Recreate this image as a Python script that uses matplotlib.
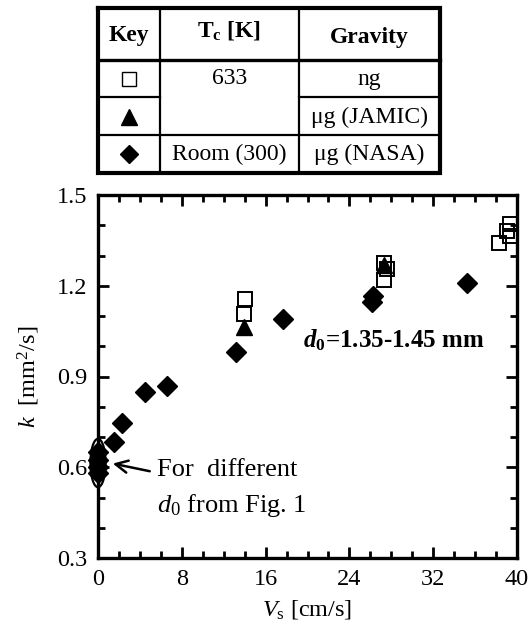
import matplotlib
matplotlib.use("Agg")
import matplotlib.pyplot as plt
from matplotlib.patches import Ellipse
from matplotlib.ticker import MultipleLocator

plt.rcParams['font.family'] = ['Liberation Serif', 'DejaVu Serif']
plt.rcParams['mathtext.fontset'] = 'custom'
plt.rcParams['mathtext.rm'] = 'Liberation Serif'
plt.rcParams['mathtext.it'] = 'Liberation Serif:italic'
plt.rcParams['mathtext.bf'] = 'Liberation Serif:bold'
plt.rcParams['mathtext.bfit'] = 'Liberation Serif:italic:bold'

# ---- data ----
ng_x = [14.0, 13.9, 27.3, 27.6, 27.3, 38.3, 39.0, 39.3, 39.3]
ng_y = [1.155, 1.105, 1.275, 1.255, 1.22, 1.34, 1.38, 1.405, 1.365]

jamic_x = [13.9, 27.3]
jamic_y = [1.065, 1.268]

nasa_x = [0, 0, 0, 0, 1.5, 2.3, 4.5, 6.6, 13.2, 17.7, 26.3, 26.2, 35.2]
nasa_y = [0.65, 0.625, 0.60, 0.58, 0.685, 0.745, 0.85, 0.87, 0.98, 1.09, 1.165, 1.145, 1.21]

x_ticks = [0, 8, 16, 24, 32, 40]
y_ticks = [0.3, 0.6, 0.9, 1.2, 1.5]

table_header = ["Key", "T$_\\mathregular{c}$ [K]", "Gravity"]
table_tc = ["633", "Room (300)"]
table_gravity = ["ng", "\u03bcg (JAMIC)", "\u03bcg (NASA)"]

W, H = 532, 640
fig = plt.figure(figsize=(W / 100, H / 100), dpi=100)

# ---- main axes ----
x0, x1, y0, y1 = 98, 517, 195, 558
ax = fig.add_axes([x0 / W, 1 - y1 / H, (x1 - x0) / W, (y1 - y0) / H])
ax.set_xlim(0, 40)
ax.set_ylim(0.3, 1.5)
ax.set_xticks(x_ticks)
ax.set_yticks(y_ticks)
ax.set_yticklabels([f"{v:.1f}" for v in y_ticks])
ax.xaxis.set_minor_locator(MultipleLocator(2))
ax.yaxis.set_minor_locator(MultipleLocator(0.1))
ax.tick_params(which='both', direction='in', top=True, right=True, width=2,
               labelsize=17.5, pad=8)
ax.tick_params(which='major', length=8)
ax.tick_params(which='minor', length=5)
for s in ax.spines.values():
    s.set_linewidth(2.4)

ax.plot(nasa_x, nasa_y, linestyle='none', marker='D', ms=10.5, color='black',
        clip_on=False, zorder=3)
ax.plot(jamic_x, jamic_y, linestyle='none', marker='^', ms=11, color='black',
        clip_on=False, zorder=4)
ax.plot(ng_x, ng_y, linestyle='none', marker='s', ms=10, mfc='none', mec='black',
        mew=1.4, clip_on=False, zorder=5)

ax.set_xlabel("$V_\\mathregular{s}$ [cm/s]", fontsize=17.5, labelpad=6)
ax.set_ylabel("$k$  [mm$^\\mathregular{2}$/s]", fontsize=17.5, labelpad=10)

ell = Ellipse((0, 0.614), 1.45, 0.16, fill=False, ec='black', lw=1.6,
              clip_on=False, zorder=6)
ax.add_patch(ell)
ax.annotate("", xy=(1.15, 0.614), xytext=(5.2, 0.585),
            arrowprops=dict(arrowstyle='->', lw=1.8, color='black',
                            mutation_scale=22))
ax.text(5.6, 0.59, "For  different", fontsize=19, va='center', ha='left')
ax.text(5.6, 0.475, "$d_\\mathregular{0}$ from Fig. 1", fontsize=19, va='center', ha='left')
ax.text(19.6, 1.02, "$\\mathbfit{d}_\\mathbf{0}$=1.35-1.45 mm", fontsize=18,
        fontweight='bold', va='center', ha='left')

# ---- table ----
tx0, tx1, ty0, ty1 = 98, 440, 8, 173
tax = fig.add_axes([tx0 / W, 1 - ty1 / H, (tx1 - tx0) / W, (ty1 - ty0) / H])
tax.set_xlim(tx0, tx1)
tax.set_ylim(ty1, ty0)
tax.axis('off')
c1, c2 = 160, 299
r1, r2, r3 = 60, 97, 135
lw_out, lw_in = 3.0, 1.6
# outer border
tax.plot([tx0, tx1, tx1, tx0, tx0], [ty0, ty0, ty1, ty1, ty0], color='black',
         lw=lw_out, clip_on=False, solid_joinstyle='miter')
tax.plot([c1, c1], [ty0, ty1], color='black', lw=lw_in, clip_on=False)
tax.plot([c2, c2], [ty0, ty1], color='black', lw=lw_in, clip_on=False)
tax.plot([tx0, tx1], [r1, r1], color='black', lw=2.4, clip_on=False)
tax.plot([tx0, c1], [r2, r2], color='black', lw=lw_in, clip_on=False)
tax.plot([c2, tx1], [r2, r2], color='black', lw=lw_in, clip_on=False)
tax.plot([tx0, tx1], [r3, r3], color='black', lw=lw_in, clip_on=False)

col_cx = [(tx0 + c1) / 2, (c1 + c2) / 2, (c2 + tx1) / 2]
tax.text(col_cx[0], 35, table_header[0], fontsize=17, fontweight='bold',
         ha='center', va='center')
tax.text(col_cx[1], 31, table_header[1], fontsize=17, fontweight='bold',
         ha='center', va='center')
tax.text(col_cx[2], 37, table_header[2], fontsize=17, fontweight='bold',
         ha='center', va='center')

row_y = [79, 117, 154]
tax.plot([col_cx[0]], [row_y[0]], marker='s', ms=10, mfc='none', mec='black',
         mew=1.0, clip_on=False)
tax.plot([col_cx[0]], [row_y[1]], marker='^', ms=11, color='black', clip_on=False)
tax.plot([col_cx[0]], [row_y[2]], marker='D', ms=9.5, color='black', clip_on=False)

tax.text(col_cx[1], row_y[0], table_tc[0], fontsize=17, ha='center', va='center')
tax.text(col_cx[1], row_y[2], table_tc[1], fontsize=17, ha='center', va='center')
for g, yy in zip(table_gravity, row_y):
    tax.text(col_cx[2], yy, g, fontsize=17, ha='center', va='center')

fig.savefig("out.png", dpi=100)
